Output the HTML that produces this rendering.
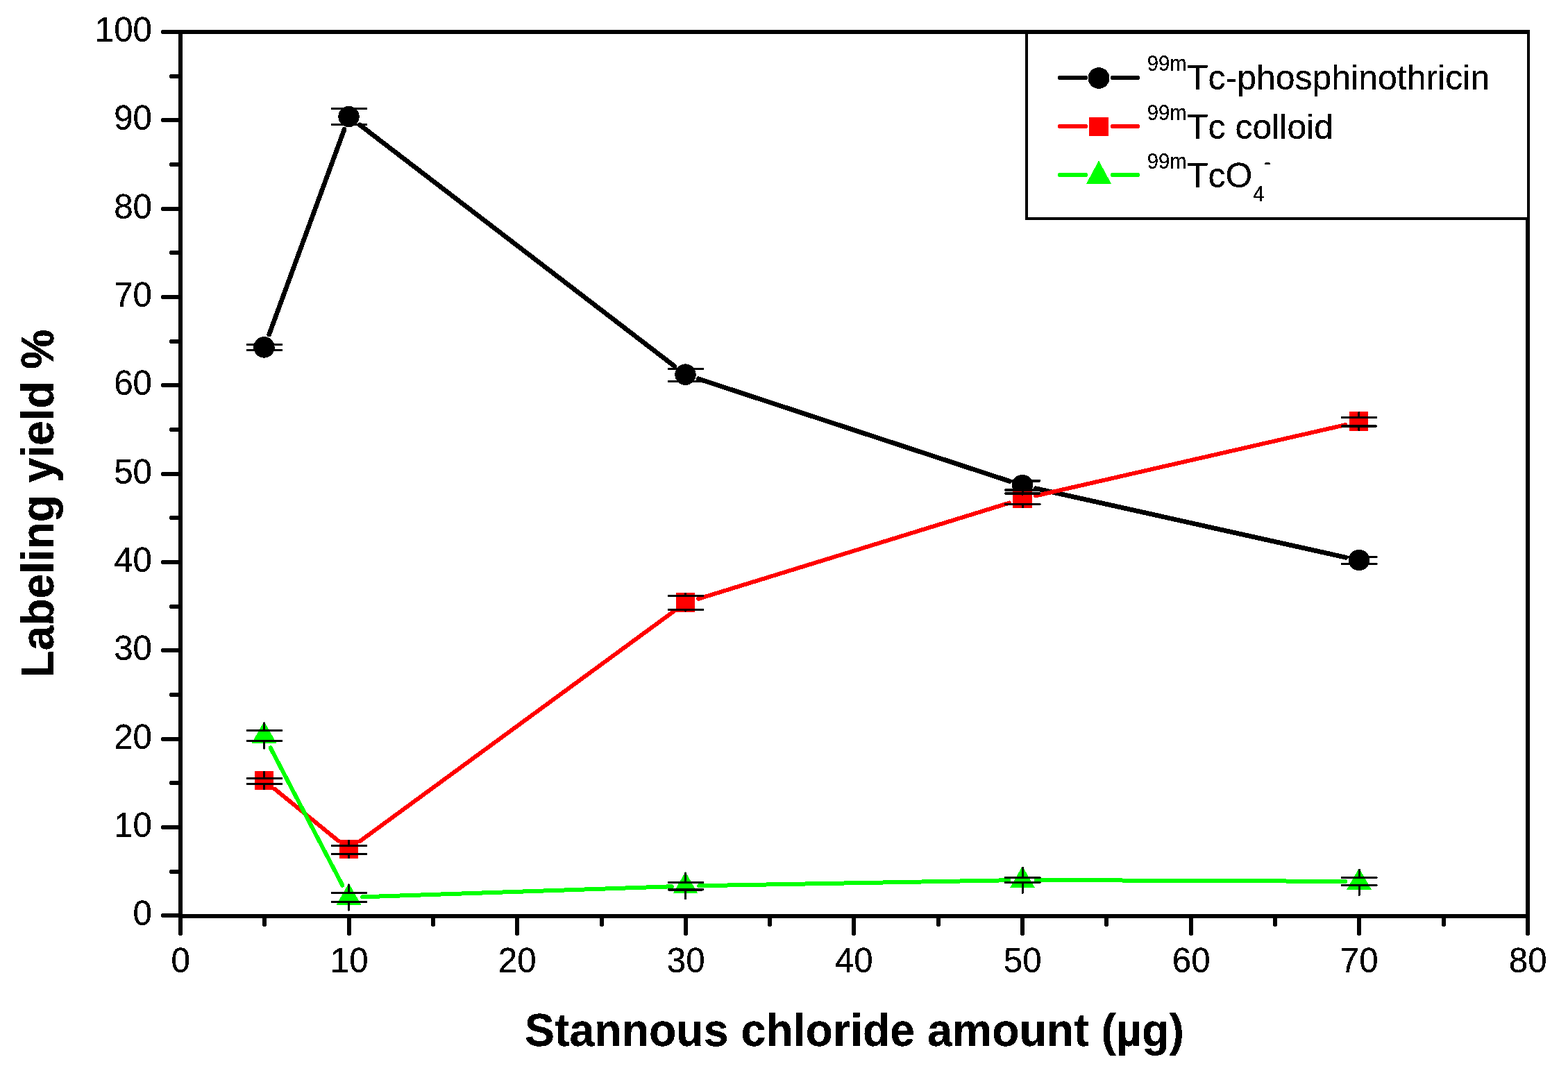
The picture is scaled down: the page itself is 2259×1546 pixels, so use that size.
<!DOCTYPE html>
<html lang="en"><head><meta charset="utf-8"><title>Labeling yield vs stannous chloride amount</title>
<style>html,body{margin:0;padding:0;background:#fff;}body{width:2259px;height:1546px;}svg{display:block;}text{font-family:"Liberation Sans",Arial,Helvetica,sans-serif;fill:#000;font-kerning:none;}</style>
</head><body>
<svg width="2259" height="1546" viewBox="0 0 2259 1546" shape-rendering="crispEdges">
<defs><filter id="crisp" x="-5%" y="-5%" width="110%" height="110%" color-interpolation-filters="sRGB"><feComponentTransfer><feFuncA type="discrete" tableValues="0 1 1"/></feComponentTransfer></filter></defs>
<rect x="0" y="0" width="2259" height="1546" fill="#ffffff"/>
<g stroke="#000000" stroke-width="6.8" stroke-linecap="round" fill="none"><line x1="387.65" y1="482" x2="496.05" y2="186.4"/><line x1="518.35" y1="179.93" x2="971.95" y2="527.77"/><line x1="1006.12" y1="545.83" x2="1454.38" y2="693.32"/><line x1="1492.13" y1="703.71" x2="1938.87" y2="803.19"/></g>
<g fill="#000000" stroke="none"><circle cx="380.5" cy="500.4" r="15.2"/><circle cx="502.5" cy="168" r="15.2"/><circle cx="987.5" cy="539.6" r="15.2"/><circle cx="1473" cy="699" r="15.2"/><circle cx="1958" cy="807" r="15.2"/></g>
<g stroke="#ff0000" stroke-width="6" stroke-linecap="round" fill="none"><line x1="395.7" y1="1136.78" x2="487.3" y2="1211.42"/><line x1="518.31" y1="1212.22" x2="971.69" y2="880.13"/><line x1="1006.23" y1="862.77" x2="1454.27" y2="724.53"/><line x1="1492.1" y1="714.37" x2="1938.5" y2="612.08"/></g>
<g fill="#ff0000" stroke="none"><rect x="366.8" y="1110.8" width="27.4" height="27.4"/><rect x="488.8" y="1209.8" width="27.4" height="27.4"/><rect x="973.8" y="854.1" width="27.4" height="27.4"/><rect x="1459.3" y="704.8" width="27.4" height="27.4"/><rect x="1943.9" y="593.3" width="27.4" height="27.4"/></g>
<g stroke="#00ff00" stroke-width="6" stroke-linecap="round" fill="none"><line x1="389.59" y1="1077.36" x2="493.41" y2="1275.64"/><line x1="522.09" y1="1292.34" x2="967.91" y2="1277.26"/><line x1="1007.1" y1="1276.25" x2="1453.4" y2="1268.25"/><line x1="1492.6" y1="1267.98" x2="1938.4" y2="1269.87"/></g>
<g fill="#00ff00" stroke="none"><polygon points="380.5,1039.5 398.3,1070.5 362.7,1070.5"/><polygon points="502.5,1272.5 520.3,1303.5 484.7,1303.5"/><polygon points="987.5,1256.1 1005.3,1287.1 969.7,1287.1"/><polygon points="1473,1247.8 1490.8,1278.8 1455.2,1278.8"/><polygon points="1958,1250.7 1975.8,1281.7 1940.2,1281.7"/></g>
<g stroke="#000" fill="none" stroke-linecap="round">
<path d="M380.7 487V496.4M380.7 504.4V513.8M502.7 154.6V156.5M502.7 179.5V181.4M987.7 526.2V531.4M987.7 549.3V553M1473.2 685.6V692.8M1473.2 706.1V712.4M1958.2 793.6V802.4M1958.2 812.5V820.4" stroke-width="3.2"/>
<path d="M356.3 496.4H405.4M356.3 504.4H405.4M478.3 156.5H527.4M478.3 179.5H527.4M963.3 531.4H1012.4M963.3 549.3H1012.4M1448.8 692.8H1497.9M1448.8 706.1H1497.9M1933.8 802.4H1982.9M1933.8 812.5H1982.9" stroke-width="3.4"/>
<path d="M380.7 1112.3V1121.5M380.7 1129.5V1136.7M502.7 1211.3V1218.4M502.7 1230.6V1235.7M987.7 855.6V858.5M987.7 878.6V880M1473.2 706.3V711M1473.2 726.5V730.7M1957.8 594.8V601.4M1957.8 614V619.2" stroke-width="3.2"/>
<path d="M356.3 1121.5H405.4M356.3 1129.5H405.4M478.3 1218.4H527.4M478.3 1230.6H527.4M963.3 858.5H1012.4M963.3 878.6H1012.4M1448.8 711H1497.9M1448.8 726.5H1497.9M1933.4 601.4H1982.5M1933.4 614H1982.5" stroke-width="3.4"/>
<path d="M380.7 1042V1052.4M380.7 1067.6V1078M502.7 1275V1286.5M502.7 1299.5V1311M987.7 1258.6V1271.4M987.7 1281.8V1294.6M1473.2 1250.3V1264.4M1473.2 1271.4V1286.3M1958.2 1253.2V1264.4M1958.2 1275.5V1289.2" stroke-width="3.2"/>
<path d="M356.3 1052.4H405.4M356.3 1067.6H405.4M478.3 1286.5H527.4M478.3 1299.5H527.4M963.3 1271.4H1012.4M963.3 1281.8H1012.4M1448.8 1264.4H1497.9M1448.8 1271.4H1497.9M1933.8 1264.4H1982.9M1933.8 1275.5H1982.9" stroke-width="3.4"/>
</g>
<g stroke="#000" stroke-width="6" fill="none" stroke-linecap="round">
<rect x="260" y="46" width="1941" height="1274" stroke-linejoin="miter"/>
<path d="M235 1319H260M247 1256H260M235 1192H260M247 1128H260M235 1065H260M247 1001H260M235 937H260M247 874H260M235 810H260M247 746H260M235 683H260M247 619H260M235 555H260M247 492H260M235 428H260M247 364H260M235 301H260M247 237H260M235 173H260M247 110H260M235 46H260M260 1320V1345M381 1320V1332M503 1320V1345M624 1320V1332M745 1320V1345M867 1320V1332M988 1320V1345M1109 1320V1332M1230 1320V1345M1352 1320V1332M1473 1320V1345M1594 1320V1332M1716 1320V1345M1837 1320V1332M1958 1320V1345M2080 1320V1332M2201 1320V1345"/>
</g>
<g filter="url(#crisp)">
<g font-size="50.3" text-anchor="end">
<text transform="translate(219 1332.6) scale(0.98 1)">0</text>
<text transform="translate(219 1205.6) scale(0.98 1)">10</text>
<text transform="translate(219 1078.6) scale(0.98 1)">20</text>
<text transform="translate(219 950.6) scale(0.98 1)">30</text>
<text transform="translate(219 823.6) scale(0.98 1)">40</text>
<text transform="translate(219 696.6) scale(0.98 1)">50</text>
<text transform="translate(219 568.6) scale(0.98 1)">60</text>
<text transform="translate(219 441.6) scale(0.98 1)">70</text>
<text transform="translate(219 314.6) scale(0.98 1)">80</text>
<text transform="translate(219 186.6) scale(0.98 1)">90</text>
<text transform="translate(219 59.6) scale(0.98 1)">100</text>
</g>
<g font-size="50.3" text-anchor="middle">
<text transform="translate(260.2 1400.6) scale(0.98 1)">0</text>
<text transform="translate(503.2 1400.6) scale(0.98 1)">10</text>
<text transform="translate(745.2 1400.6) scale(0.98 1)">20</text>
<text transform="translate(988.2 1400.6) scale(0.98 1)">30</text>
<text transform="translate(1230.2 1400.6) scale(0.98 1)">40</text>
<text transform="translate(1473.2 1400.6) scale(0.98 1)">50</text>
<text transform="translate(1716.2 1400.6) scale(0.98 1)">60</text>
<text transform="translate(1958.2 1400.6) scale(0.98 1)">70</text>
<text transform="translate(2201.2 1400.6) scale(0.98 1)">80</text>
</g>
<text x="1231" y="1507" font-size="67.5" font-weight="bold" text-anchor="middle" textLength="950" lengthAdjust="spacingAndGlyphs">Stannous chloride amount (µg)</text>
<text transform="translate(77 474.6) rotate(-90)" font-size="67.5" font-weight="bold" text-anchor="end" textLength="501.7" lengthAdjust="spacingAndGlyphs">Labeling yield %</text>
</g>
<rect x="1479" y="47" width="723" height="268" fill="#fff" stroke="#000" stroke-width="4"/>
<path d="M1527 112.2H1564M1603 112.2H1639" stroke="#000000" stroke-width="6" stroke-linecap="round" fill="none"/>
<circle cx="1583" cy="112.5" r="15.4" fill="#000000"/>
<path d="M1527 182.2H1564M1603 182.2H1639" stroke="#ff0000" stroke-width="6" stroke-linecap="round" fill="none"/>
<rect x="1569" y="169" width="28" height="27" fill="#ff0000"/>
<path d="M1527 252.2H1564M1603 252.2H1639" stroke="#00ff00" stroke-width="6" stroke-linecap="round" fill="none"/>
<polygon points="1583,231.4 1601,264.7 1565,264.7" fill="#00ff00"/>
<g filter="url(#crisp)">
<text transform="translate(1652.8 101.8) scale(0.91 1)" font-size="32">99m</text>
<text transform="translate(1710 128.8) scale(0.992 1)" font-size="50.4">Tc-phosphinothricin</text>
<text transform="translate(1652.8 172.8) scale(0.91 1)" font-size="32">99m</text>
<text transform="translate(1710 199.8) scale(0.992 1)" font-size="50.4">Tc colloid</text>
<text transform="translate(1652.8 242.9) scale(0.91 1)" font-size="32">99m</text>
<text transform="translate(1710 269.9) scale(0.992 1)" font-size="50.4">TcO</text>
<text transform="translate(1805.2 289.8) scale(0.91 1)" font-size="32">4</text>
<text transform="translate(1821 244) scale(0.91 1)" font-size="32">-</text>
</g>
</svg>
</body></html>
